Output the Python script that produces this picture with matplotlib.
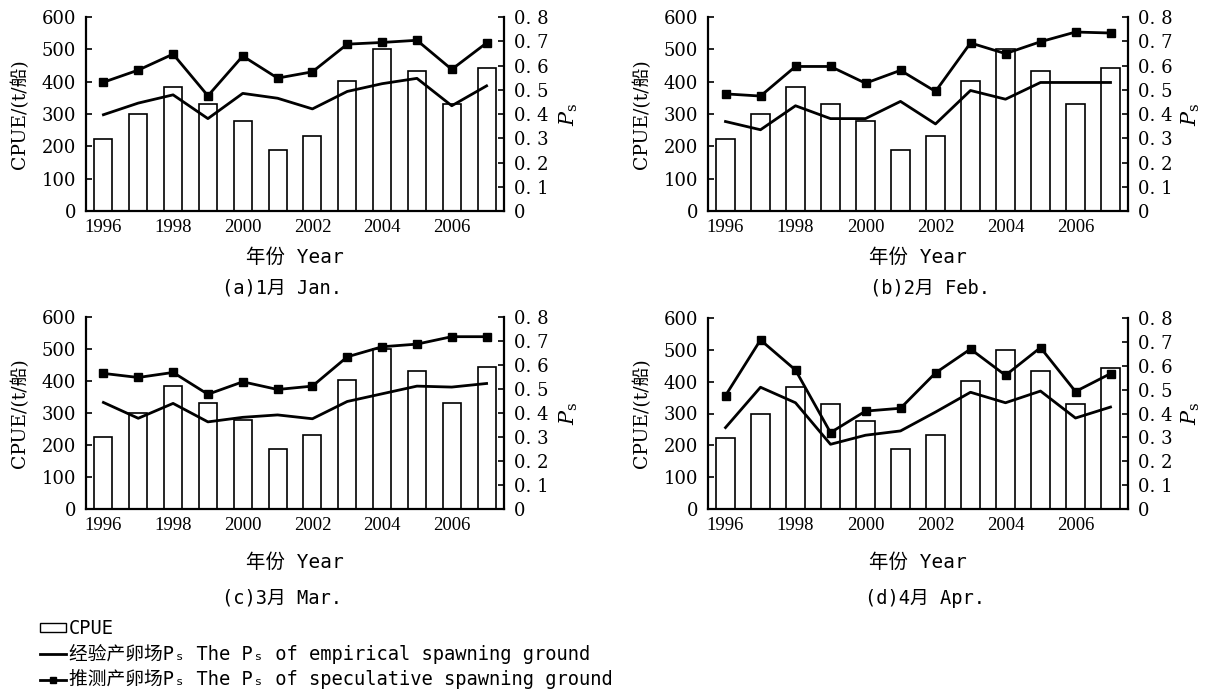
import matplotlib
matplotlib.use("Agg")
import matplotlib.pyplot as plt
from matplotlib.lines import Line2D
from matplotlib.patches import Patch

plt.rcParams["mathtext.fontset"] = "dejavuserif"

# Data
years = list(range(1996, 2008))
cpue = [224, 300, 383, 330, 277, 188, 232, 403, 500, 432, 330, 443]

# Ps of empirical spawning ground (Jan..Apr)
emp_jan = [0.397, 0.445, 0.479, 0.381, 0.485, 0.465, 0.421, 0.493, 0.525, 0.547, 0.434, 0.516]
emp_feb = [0.369, 0.335, 0.434, 0.381, 0.381, 0.452, 0.359, 0.497, 0.461, 0.530, 0.530, 0.530]
emp_mar = [0.444, 0.378, 0.440, 0.363, 0.382, 0.392, 0.376, 0.448, 0.480, 0.512, 0.508, 0.523]
emp_apr = [0.341, 0.510, 0.445, 0.271, 0.309, 0.327, 0.406, 0.489, 0.445, 0.494, 0.381, 0.427]

# Ps of speculative spawning ground (Jan..Apr)
spec_jan = [0.531, 0.581, 0.647, 0.475, 0.639, 0.548, 0.574, 0.688, 0.695, 0.704, 0.584, 0.693]
spec_feb = [0.483, 0.474, 0.596, 0.596, 0.527, 0.580, 0.493, 0.693, 0.649, 0.698, 0.738, 0.734]
spec_mar = [0.565, 0.548, 0.569, 0.478, 0.530, 0.498, 0.512, 0.634, 0.676, 0.687, 0.718, 0.718]
spec_apr = [0.475, 0.708, 0.582, 0.320, 0.410, 0.422, 0.570, 0.670, 0.560, 0.676, 0.492, 0.567]

emp_all = [emp_jan, emp_feb, emp_mar, emp_apr]
spec_all = [spec_jan, spec_feb, spec_mar, spec_apr]
captions = ["(a)1月 Jan.", "(b)2月 Feb.", "(c)3月 Mar.", "(d)4月 Apr."]

cpue_ticks = [0, 100, 200, 300, 400, 500, 600]
ps_ticks = [0, 0.1, 0.2, 0.3, 0.4, 0.5, 0.6, 0.7, 0.8]
ps_ticklabels = ["0", "0. 1", "0. 2", "0. 3", "0. 4", "0. 5", "0. 6", "0. 7", "0. 8"]

serif = ["Liberation Serif", "Noto Sans CJK SC"]
yserif = ["DejaVu Serif", "Noto Sans CJK SC"]
mono = ["DejaVu Sans Mono", "Noto Sans CJK SC", "DejaVu Sans"]

W, H = 1210, 694
fig = plt.figure(figsize=(W / 100, H / 100), dpi=100)

# axes boxes in pixels: left, top, right, bottom
boxes = [(86, 17, 504, 211), (708, 17, 1128, 211),
         (86, 317, 504, 509), (708, 318, 1128, 509)]
xlabel_y = [257, 257, 562, 562]
ylabel_x = [29, 651, 29, 651]
pslabel_x = [558, 1180, 558, 1180]
caption_pos = [(282, 288), (930, 288), (282, 598), (925, 598)]

x = list(range(len(years)))
for i in range(4):
    l, t, r, b = boxes[i]
    ax = fig.add_axes([l / W, 1 - b / H, (r - l) / W, (b - t) / H])
    ax.bar(x, cpue, width=0.52, color="white", edgecolor="black", linewidth=1.2)
    ax.set_xlim(-0.5, len(years) - 0.5)
    ax.set_ylim(0, 600)
    ax.set_yticks(cpue_ticks)
    ax.set_xticks(x[::2])
    ax.set_xticklabels([str(y) for y in years[::2]])
    ax.tick_params(axis="x", length=0, pad=6)
    ax.tick_params(axis="y", direction="in", length=4, width=1.2, pad=7)
    for lab in ax.get_xticklabels():
        lab.set_family(serif)
        lab.set_fontsize(13.5)
    for lab in ax.get_yticklabels():
        lab.set_family(yserif)
        lab.set_fontsize(13)
    ax.spines["top"].set_visible(False)
    ax.spines["right"].set_visible(False)
    for s in ["left", "bottom"]:
        ax.spines[s].set_linewidth(1.6)
    ax.set_ylabel("CPUE/(t/船)", family=yserif, fontsize=13.5)
    ax.yaxis.set_label_coords((ylabel_x[i] - l) / (r - l), 0.5)
    ax.set_xlabel("年份 Year", family=mono, fontsize=14)
    ax.xaxis.set_label_coords(0.5, (b - xlabel_y[i]) / (b - t))
    ax.xaxis.label.set_va("center")

    ax2 = ax.twinx()
    ax2.plot(x, emp_all[i], color="black", linewidth=2.0)
    ax2.plot(x, spec_all[i], color="black", linewidth=2.0, marker="s", markersize=5.5)
    ax2.set_ylim(0, 0.8)
    ax2.set_yticks(ps_ticks)
    ax2.set_yticklabels(ps_ticklabels)
    ax2.tick_params(axis="y", direction="in", length=4, width=1.2, pad=7)
    for lab in ax2.get_yticklabels():
        lab.set_family(yserif)
        lab.set_fontsize(13)
    for s in ["top", "left", "bottom"]:
        ax2.spines[s].set_visible(False)
    ax2.spines["right"].set_linewidth(1.6)
    ax2.set_ylabel(r"$P_\mathrm{s}$", fontsize=15, rotation=90)
    ax2.yaxis.set_label_coords((pslabel_x[i] - l) / (r - l), 0.5)

    cx, cy = caption_pos[i]
    fig.text(cx / W, 1 - cy / H, captions[i], family=mono, fontsize=13.5,
             ha="center", va="center")

handles = [
    Patch(facecolor="white", edgecolor="black", linewidth=1.0),
    Line2D([], [], color="black", linewidth=2.0),
    Line2D([], [], color="black", linewidth=2.0, marker="s", markersize=4),
]
labels = [
    "CPUE",
    "经验产卵场Pₛ The Pₛ of empirical spawning ground",
    "推测产卵场Pₛ The Pₛ of speculative spawning ground",
]
fig.legend(handles, labels, loc="upper left", bbox_to_anchor=(40 / W, 1 - 619 / H),
           frameon=False, prop={"family": mono, "size": 13.5}, handlelength=1.4,
           handleheight=0.35, handletextpad=0.15, labelspacing=0.3, borderpad=0,
           borderaxespad=0)

fig.savefig("out.png", dpi=100)
